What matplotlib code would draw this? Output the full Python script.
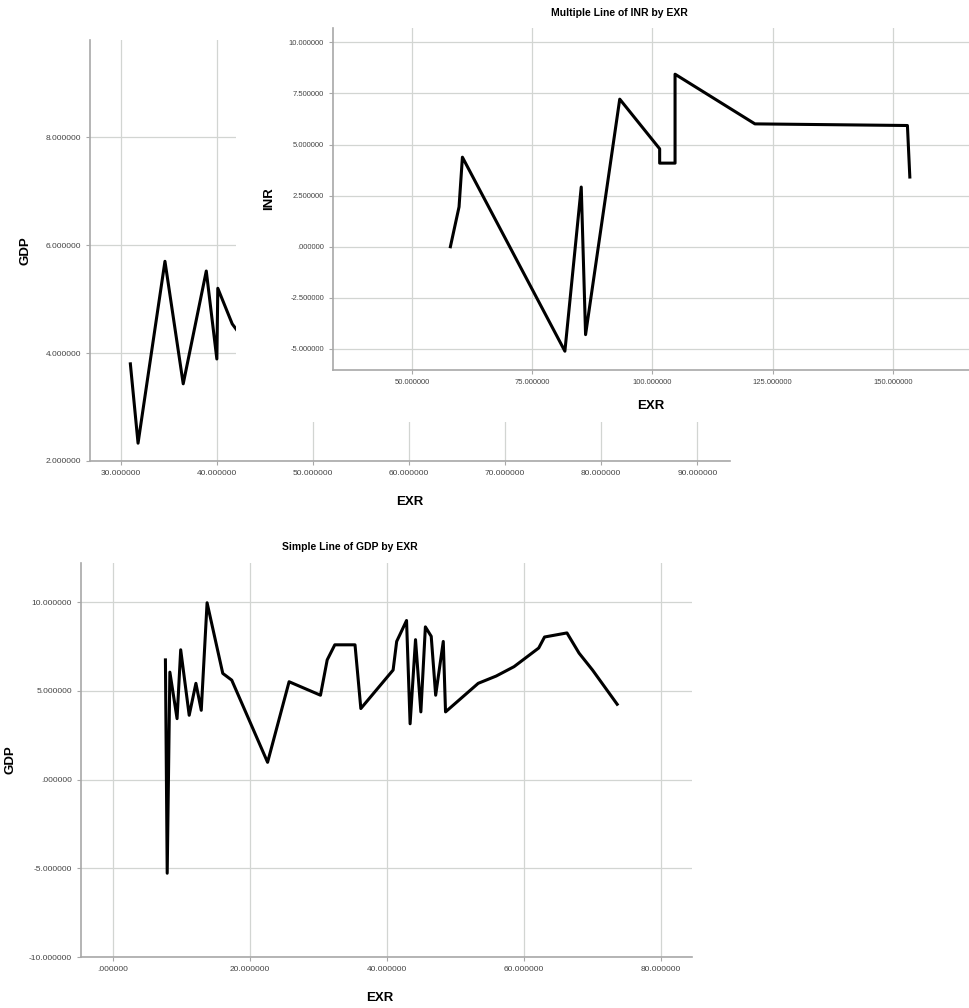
import matplotlib.pyplot as plt
from matplotlib.ticker import FuncFormatter, MultipleLocator
from matplotlib.patches import Rectangle

plt.rcParams['font.family'] = ['Liberation Sans', 'DejaVu Sans']

# GDP by EXR chart that sits behind (only the left part shows)
exr_back = [31.0, 31.8, 34.6, 36.5, 38.9, 40.0, 40.1, 41.6, 42.6]
gdp_back = [3.80, 2.33, 5.70, 3.43, 5.52, 3.89, 5.20, 4.54, 4.30]

# Multiple Line of INR by EXR
exr_inr = [58.0, 59.8, 60.5, 81.8, 85.2, 86.1, 93.2, 101.5, 101.5, 104.7,
           104.7, 121.3, 153.0, 153.5]
inr = [0.0, 1.95, 4.38, -5.11, 2.92, -4.30, 7.22, 4.79, 4.09, 4.09,
       8.44, 6.01, 5.93, 3.41]

# Simple Line of GDP by EXR
exr = [7.65, 7.91, 8.3, 9.35, 9.88, 11.12, 12.1, 12.88, 13.73, 16.02,
       17.33, 22.56, 25.7, 30.28, 31.26, 32.37, 35.32, 36.17, 40.88, 41.4,
       42.84, 43.36, 44.15, 44.93, 45.59, 46.44, 47.09, 48.2, 48.53, 53.3,
       55.92, 58.53, 62.13, 62.98, 66.25, 68.02, 69.98, 73.58]
gdp = [6.74, -5.28, 6.05, 3.43, 7.31, 3.62, 5.42, 3.9, 9.96, 5.98,
       5.6, 0.97, 5.51, 4.75, 6.74, 7.59, 7.59, 4.0, 6.17, 7.78,
       8.96, 3.14, 7.88, 3.81, 8.6, 8.07, 4.75, 7.78, 3.81, 5.42,
       5.83, 6.36, 7.41, 8.03, 8.26, 7.12, 6.17, 4.24]

W, H = 969, 1008
fig = plt.figure(figsize=(W / 100, H / 100), dpi=100)


def px_axes(l, t, r, b):
    return fig.add_axes([l / W, 1 - b / H, (r - l) / W, (b - t) / H])


def spss(v, pos):
    s = f"{v:.6f}"
    if s.startswith("-0."):
        s = "-" + s[2:]
    if s.startswith("0."):
        s = s[1:]
    if s == "-.000000":
        s = ".000000"
    return s


def style(ax, fs=6):
    for side in ['top', 'right']:
        ax.spines[side].set_visible(False)
    for side in ['left', 'bottom']:
        ax.spines[side].set_color('#a8a8a8')
        ax.spines[side].set_linewidth(1.2)
    ax.grid(True, color='#d2d5d2', lw=0.9)
    ax.set_axisbelow(True)
    ax.tick_params(colors='#a8a8a8', labelcolor='#444444', labelsize=fs,
                   length=3)
    ax.xaxis.set_major_formatter(FuncFormatter(spss))
    ax.yaxis.set_major_formatter(FuncFormatter(spss))


# background chart
ax0 = px_axes(90, 40, 730, 461)
style(ax0, 6)
ax0.plot(exr_back, gdp_back, color='black', lw=2.2)
ax0.set_xlim(26.8, 93.4)
ax0.set_ylim(2, 9.8)
ax0.xaxis.set_major_locator(MultipleLocator(10))
ax0.yaxis.set_major_locator(MultipleLocator(2))
ax0.set_xlabel('EXR', fontsize=9.5, fontweight='bold', labelpad=14)
ax0.set_ylabel('GDP', fontsize=9.5, fontweight='bold', labelpad=10)

# white panel of the pasted INR chart
fig.patches.append(Rectangle((236 / W, 1 - 422 / H), 1, 422 / H,
                             transform=fig.transFigure, facecolor='white',
                             edgecolor='none', zorder=1))

ax1 = px_axes(333, 28, 969, 370)
ax1.set_zorder(2)
style(ax1, 5.5)
ax1.plot(exr_inr, inr, color='black', lw=2.2)
ax1.set_xlim(33.6, 165.8)
ax1.set_ylim(-6.03, 10.7)
ax1.xaxis.set_major_locator(MultipleLocator(25))
ax1.yaxis.set_major_locator(MultipleLocator(2.5))
ax1.set_xlabel('EXR', fontsize=9.5, fontweight='bold', labelpad=10)
ax1.set_ylabel('INR', fontsize=9.5, fontweight='bold', labelpad=10)
ax1.set_title('Multiple Line of INR by EXR', fontsize=7.5, fontweight='bold',
              pad=9, x=0.451)

# bottom chart
ax2 = px_axes(81, 563, 692, 957)
style(ax2, 6)
ax2.plot(exr, gdp, color='black', lw=2.2)
ax2.set_xlim(-4.67, 84.5)
ax2.set_ylim(-10, 12.2)
ax2.xaxis.set_major_locator(MultipleLocator(20))
ax2.yaxis.set_major_locator(MultipleLocator(5))
ax2.set_xlabel('EXR', fontsize=9.5, fontweight='bold', labelpad=14, x=0.489)
ax2.set_ylabel('GDP', fontsize=9.5, fontweight='bold', labelpad=9)
ax2.set_title('Simple Line of GDP by EXR', fontsize=7.5, fontweight='bold',
              pad=9, x=0.44)

fig.savefig('out.png', dpi=100)
